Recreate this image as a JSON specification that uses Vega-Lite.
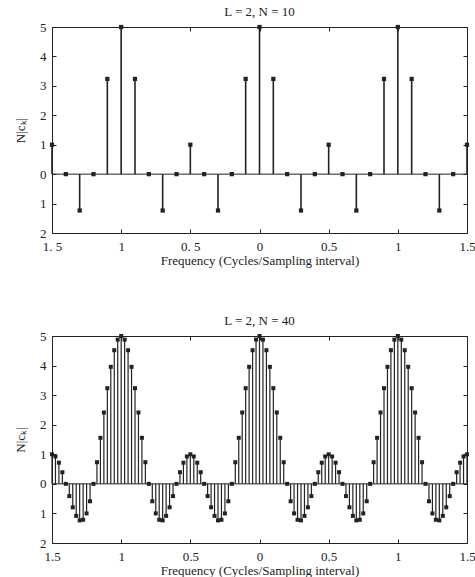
{
  "$schema": "https://vega.github.io/schema/vega-lite/v6.json",
  "padding": {"left": 14, "top": 5, "right": 0, "bottom": 5},
  "background": "white",
  "config": {
    "font": "Liberation Serif",
    "view": {"stroke": "#222", "strokeWidth": 1},
    "axis": {"labelFont": "Liberation Serif", "labelFontSize": 13, "labelColor": "#222", "titleFont": "Liberation Serif", "titleFontSize": 13, "titleFontWeight": "normal", "titleColor": "#222", "tickColor": "#222", "tickSize": -4, "domain": false, "grid": false, "labelPadding": 10, "labelFlush": false},
    "title": {"font": "Liberation Serif", "fontSize": 13, "fontWeight": "normal", "color": "#222", "offset": 2}
  },
  "datasets": {
    "n10": [
      {"f": -1.5, "v": 1}, {"f": -1.4, "v": 0}, {"f": -1.3, "v": -1.236}, {"f": -1.2, "v": 0}, {"f": -1.1, "v": 3.236},
      {"f": -1.0, "v": 5}, {"f": -0.9, "v": 3.236}, {"f": -0.8, "v": 0}, {"f": -0.7, "v": -1.236}, {"f": -0.6, "v": 0},
      {"f": -0.5, "v": 1}, {"f": -0.4, "v": 0}, {"f": -0.3, "v": -1.236}, {"f": -0.2, "v": 0}, {"f": -0.1, "v": 3.236},
      {"f": 0, "v": 5}, {"f": 0.1, "v": 3.236}, {"f": 0.2, "v": 0}, {"f": 0.3, "v": -1.236}, {"f": 0.4, "v": 0},
      {"f": 0.5, "v": 1}, {"f": 0.6, "v": 0}, {"f": 0.7, "v": -1.236}, {"f": 0.8, "v": 0}, {"f": 0.9, "v": 3.236},
      {"f": 1.0, "v": 5}, {"f": 1.1, "v": 3.236}, {"f": 1.2, "v": 0}, {"f": 1.3, "v": -1.236}, {"f": 1.4, "v": 0},
      {"f": 1.5, "v": 1}
    ],
    "n40": [
      {"f": -1.5, "v": 1}, {"f": -1.475, "v": 0.9267}, {"f": -1.45, "v": 0.7159}, {"f": -1.425, "v": 0.3936},
      {"f": -1.4, "v": 0}, {"f": -1.375, "v": -0.4142}, {"f": -1.35, "v": -0.7936}, {"f": -1.325, "v": -1.0836},
      {"f": -1.3, "v": -1.2361}, {"f": -1.275, "v": -1.215}, {"f": -1.25, "v": -1}, {"f": -1.225, "v": -0.5892},
      {"f": -1.2, "v": 0}, {"f": -1.175, "v": 0.7324}, {"f": -1.15, "v": 1.5575}, {"f": -1.125, "v": 2.4142},
      {"f": -1.1, "v": 3.2361}, {"f": -1.075, "v": 3.9576}, {"f": -1.05, "v": 4.5201}, {"f": -1.025, "v": 4.8775},
      {"f": -1.0, "v": 5}, {"f": -0.975, "v": 4.8775}, {"f": -0.95, "v": 4.5201}, {"f": -0.925, "v": 3.9576},
      {"f": -0.9, "v": 3.2361}, {"f": -0.875, "v": 2.4142}, {"f": -0.85, "v": 1.5575}, {"f": -0.825, "v": 0.7324},
      {"f": -0.8, "v": 0}, {"f": -0.775, "v": -0.5892}, {"f": -0.75, "v": -1}, {"f": -0.725, "v": -1.215},
      {"f": -0.7, "v": -1.2361}, {"f": -0.675, "v": -1.0836}, {"f": -0.65, "v": -0.7936}, {"f": -0.625, "v": -0.4142},
      {"f": -0.6, "v": 0}, {"f": -0.575, "v": 0.3936}, {"f": -0.55, "v": 0.7159}, {"f": -0.525, "v": 0.9267},
      {"f": -0.5, "v": 1}, {"f": -0.475, "v": 0.9267}, {"f": -0.45, "v": 0.7159}, {"f": -0.425, "v": 0.3936},
      {"f": -0.4, "v": 0}, {"f": -0.375, "v": -0.4142}, {"f": -0.35, "v": -0.7936}, {"f": -0.325, "v": -1.0836},
      {"f": -0.3, "v": -1.2361}, {"f": -0.275, "v": -1.215}, {"f": -0.25, "v": -1}, {"f": -0.225, "v": -0.5892},
      {"f": -0.2, "v": 0}, {"f": -0.175, "v": 0.7324}, {"f": -0.15, "v": 1.5575}, {"f": -0.125, "v": 2.4142},
      {"f": -0.1, "v": 3.2361}, {"f": -0.075, "v": 3.9576}, {"f": -0.05, "v": 4.5201}, {"f": -0.025, "v": 4.8775},
      {"f": 0, "v": 5},
      {"f": 0.025, "v": 4.8775}, {"f": 0.05, "v": 4.5201}, {"f": 0.075, "v": 3.9576}, {"f": 0.1, "v": 3.2361},
      {"f": 0.125, "v": 2.4142}, {"f": 0.15, "v": 1.5575}, {"f": 0.175, "v": 0.7324}, {"f": 0.2, "v": 0},
      {"f": 0.225, "v": -0.5892}, {"f": 0.25, "v": -1}, {"f": 0.275, "v": -1.215}, {"f": 0.3, "v": -1.2361},
      {"f": 0.325, "v": -1.0836}, {"f": 0.35, "v": -0.7936}, {"f": 0.375, "v": -0.4142}, {"f": 0.4, "v": 0},
      {"f": 0.425, "v": 0.3936}, {"f": 0.45, "v": 0.7159}, {"f": 0.475, "v": 0.9267}, {"f": 0.5, "v": 1},
      {"f": 0.525, "v": 0.9267}, {"f": 0.55, "v": 0.7159}, {"f": 0.575, "v": 0.3936}, {"f": 0.6, "v": 0},
      {"f": 0.625, "v": -0.4142}, {"f": 0.65, "v": -0.7936}, {"f": 0.675, "v": -1.0836}, {"f": 0.7, "v": -1.2361},
      {"f": 0.725, "v": -1.215}, {"f": 0.75, "v": -1}, {"f": 0.775, "v": -0.5892}, {"f": 0.8, "v": 0},
      {"f": 0.825, "v": 0.7324}, {"f": 0.85, "v": 1.5575}, {"f": 0.875, "v": 2.4142}, {"f": 0.9, "v": 3.2361},
      {"f": 0.925, "v": 3.9576}, {"f": 0.95, "v": 4.5201}, {"f": 0.975, "v": 4.8775}, {"f": 1.0, "v": 5},
      {"f": 1.025, "v": 4.8775}, {"f": 1.05, "v": 4.5201}, {"f": 1.075, "v": 3.9576}, {"f": 1.1, "v": 3.2361},
      {"f": 1.125, "v": 2.4142}, {"f": 1.15, "v": 1.5575}, {"f": 1.175, "v": 0.7324}, {"f": 1.2, "v": 0},
      {"f": 1.225, "v": -0.5892}, {"f": 1.25, "v": -1}, {"f": 1.275, "v": -1.215}, {"f": 1.3, "v": -1.2361},
      {"f": 1.325, "v": -1.0836}, {"f": 1.35, "v": -0.7936}, {"f": 1.375, "v": -0.4142}, {"f": 1.4, "v": 0},
      {"f": 1.425, "v": 0.3936}, {"f": 1.45, "v": 0.7159}, {"f": 1.475, "v": 0.9267}, {"f": 1.5, "v": 1}
    ]
  },
  "spacing": 46,
  "vconcat": [
    {
      "title": "L = 2, N = 10",
      "width": 415,
      "height": 206,
      "data": {"name": "n10"},
      "resolve": {"axis": {"x": "independent", "y": "independent"}},
      "layer": [
        {
          "data": {"values": [{}]},
          "mark": {"type": "rule", "color": "#222", "strokeWidth": 1},
          "encoding": {"y": {"datum": 0, "type": "quantitative", "scale": {"domain": [-2, 5], "nice": false}, "axis": null}}
        },
        {
          "mark": {"type": "rule", "color": "#222", "strokeWidth": 1.6},
          "encoding": {
            "x": {"field": "f", "type": "quantitative", "scale": {"domain": [-1.5, 1.5], "nice": false, "zero": false},
              "axis": {"orient": "bottom", "values": [-1.5, -1, -0.5, 0, 0.5, 1, 1.5], "title": "Frequency (Cycles/Sampling interval)", "titlePadding": 1, "labelPadding": 11,
                "labelExpr": "datum.value == -1.5 ? '1. 5' : datum.value == -0.5 ? '0. 5' : format(abs(datum.value), '')"}},
            "y": {"field": "v", "type": "quantitative", "scale": {"domain": [-2, 5], "nice": false},
              "axis": {"orient": "left", "values": [-2, -1, 0, 1, 2, 3, 4, 5], "title": "N|cₖ|", "labelExpr": "format(abs(datum.value), 'd')", "titlePadding": 12}},
            "y2": {"datum": 0}
          }
        },
        {
          "mark": {"type": "square", "color": "#222", "filled": true, "opacity": 1, "size": 18},
          "encoding": {
            "x": {"field": "f", "type": "quantitative", "scale": {"domain": [-1.5, 1.5], "nice": false, "zero": false},
              "axis": {"orient": "top", "values": [-1.5, -1, -0.5, 0, 0.5, 1, 1.5], "labels": false, "title": null}},
            "y": {"field": "v", "type": "quantitative", "scale": {"domain": [-2, 5], "nice": false},
              "axis": {"orient": "right", "values": [-2, -1, 0, 1, 2, 3, 4, 5], "labels": false, "title": null}}
          }
        }
      ]
    },
    {
      "title": "L = 2, N = 40",
      "width": 415,
      "height": 207,
      "data": {"name": "n40"},
      "resolve": {"axis": {"x": "independent", "y": "independent"}},
      "layer": [
        {
          "data": {"values": [{}]},
          "mark": {"type": "rule", "color": "#222", "strokeWidth": 1},
          "encoding": {"y": {"datum": 0, "type": "quantitative", "scale": {"domain": [-2, 5], "nice": false}, "axis": null}}
        },
        {
          "mark": {"type": "rule", "color": "#222", "strokeWidth": 1.2},
          "encoding": {
            "x": {"field": "f", "type": "quantitative", "scale": {"domain": [-1.5, 1.5], "nice": false, "zero": false},
              "axis": {"orient": "bottom", "values": [-1.5, -1, -0.5, 0, 0.5, 1, 1.5], "title": "Frequency (Cycles/Sampling interval)", "titlePadding": 1, "labelPadding": 11,
                "labelExpr": "format(abs(datum.value), '')"}},
            "y": {"field": "v", "type": "quantitative", "scale": {"domain": [-2, 5], "nice": false},
              "axis": {"orient": "left", "values": [-2, -1, 0, 1, 2, 3, 4, 5], "title": "N|cₖ|", "labelExpr": "format(abs(datum.value), 'd')", "titlePadding": 12}},
            "y2": {"datum": 0}
          }
        },
        {
          "mark": {"type": "square", "color": "#222", "filled": true, "opacity": 1, "size": 16},
          "encoding": {
            "x": {"field": "f", "type": "quantitative", "scale": {"domain": [-1.5, 1.5], "nice": false, "zero": false},
              "axis": {"orient": "top", "values": [-1.5, -1, -0.5, 0, 0.5, 1, 1.5], "labels": false, "title": null}},
            "y": {"field": "v", "type": "quantitative", "scale": {"domain": [-2, 5], "nice": false},
              "axis": {"orient": "right", "values": [-2, -1, 0, 1, 2, 3, 4, 5], "labels": false, "title": null}}
          }
        }
      ]
    }
  ]
}
